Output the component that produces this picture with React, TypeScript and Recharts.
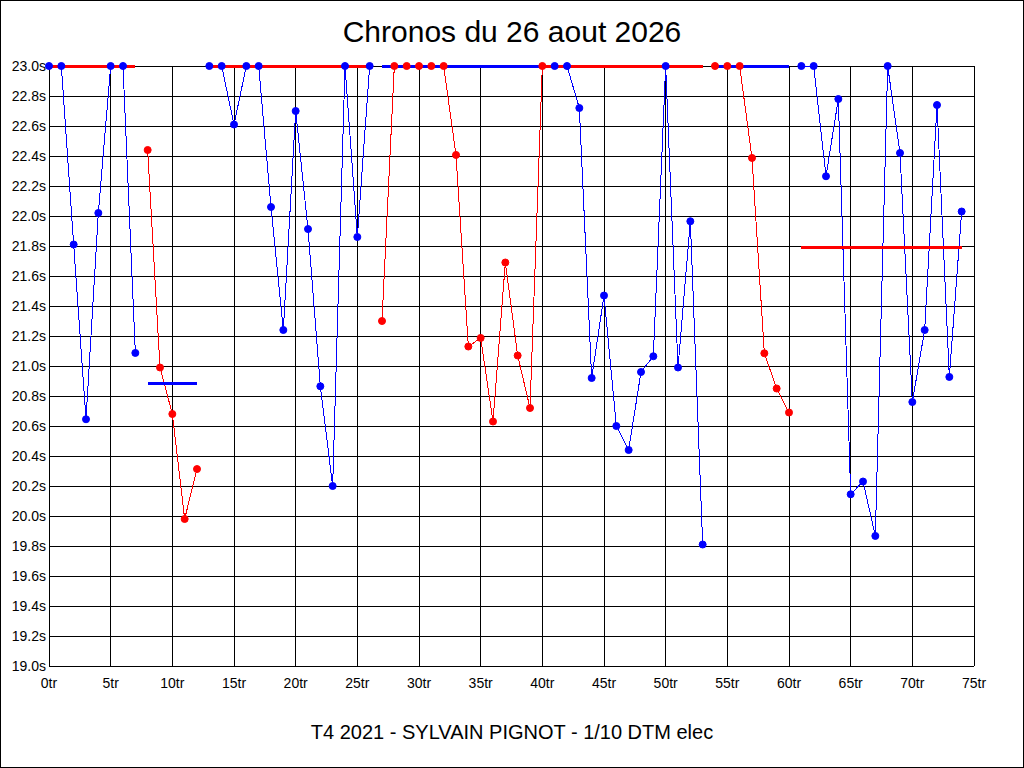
import React from 'react';
import { ComposedChart, Line, XAxis, YAxis, CartesianGrid } from 'recharts';

// Lap times (seconds); values above 23.0 are shown clipped at 23.0
const lapTimes = [
  23.0, 23.0, 21.81, 20.645, 22.02, 23.0, 23.0, 21.087,
  22.44, 20.99, 20.68, 19.98, 20.313,
  23.0, 23.0, 22.61, 23.0, 23.0, 22.06, 21.24, 22.7, 21.913, 20.865, 20.2, 23.0, 21.86, 23.0,
  21.3, 23.0, 23.0, 23.0, 23.0, 23.0, 22.407, 21.13, 21.187, 20.63, 21.69, 21.07, 20.72, 23.0,
  23.0, 23.0, 22.72, 20.92, 21.47, 20.6, 20.44, 20.96, 21.065, 23.0, 20.99, 21.965, 19.81,
  23.0, 23.0, 23.0, 22.387, 21.085, 20.85, 20.69,
  23.0, 23.0, 22.265, 22.78, 20.145, 20.23, 19.867, 23.0, 22.42, 20.76, 21.24, 22.74, 20.927, 22.03,
];

// Runs (groups of laps)
const groupStart = [0, 8, 13, 27, 41, 54, 61];
const groupEnd = [7, 12, 26, 40, 53, 60, 74];
const groupColor = ['#0000ff', '#ff0000', '#0000ff', '#ff0000', '#0000ff', '#ff0000', '#0000ff'];

// Average line per run (clipped at 23.0)
const avgValue = [23.0, 20.885, 23.0, 23.0, 23.0, 23.0, 21.787];
const avgStart = [0, 8, 13, 27, 40, 54, 61];
const avgEnd = [7, 12, 26, 40, 53, 60, 74];
const avgColor = ['#ff0000', '#0000ff', '#ff0000', '#0000ff', '#ff0000', '#0000ff', '#ff0000'];

const xTicks = [0, 5, 10, 15, 20, 25, 30, 35, 40, 45, 50, 55, 60, 65, 70, 75];
const yTicks = [19.0, 19.2, 19.4, 19.6, 19.8, 20.0, 20.2, 20.4, 20.6, 20.8, 21.0, 21.2, 21.4, 21.6, 21.8, 22.0, 22.2, 22.4, 22.6, 22.8, 23.0];

const title = 'Chronos du 26 aout 2026';
const footer = 'T4 2021 - SYLVAIN PIGNOT - 1/10 DTM elec';

const data = lapTimes.map((t, lap) => {
  const row: Record<string, number> = { lap };
  groupStart.forEach((s, i) => {
    if (lap >= s && lap <= groupEnd[i]) row['g' + i] = t;
  });
  avgStart.forEach((s, i) => {
    if (lap >= s && lap <= avgEnd[i]) row['a' + i] = avgValue[i];
  });
  return row;
});

const FONT = '"Liberation Sans", Arial, sans-serif';
const tickStyle = { fill: '#000', fontSize: 14, fontFamily: FONT };

export default function App() {
  return (
    <div style={{ position: 'absolute', left: 0, top: 0, width: 1024, height: 768, background: '#fff', fontFamily: FONT }}>
      <style>{`
        .recharts-cartesian-grid line, .recharts-cartesian-axis-line { shape-rendering: crispEdges; }
        .recharts-line-curve { shape-rendering: crispEdges; }
      `}</style>
      <ComposedChart
        width={1024}
        height={768}
        data={data}
        margin={{ top: 66, right: 0, bottom: 72, left: 0 }}
      >
        <CartesianGrid yAxisId="left" stroke="#000" strokeWidth={1} strokeOpacity={1} />
        <XAxis
          dataKey="lap"
          type="number"
          domain={[0, 75]}
          ticks={xTicks}
          tickFormatter={(v: number) => `${v}tr`}
          tick={tickStyle}
          tickLine={false}
          tickSize={0}
          tickMargin={12}
          height={30}
          axisLine={{ stroke: '#000' }}
          interval={0}
        />
        <YAxis
          yAxisId="left"
          type="number"
          domain={[19, 23]}
          ticks={yTicks}
          tickFormatter={(v: number) => `${v.toFixed(1)}s`}
          tick={tickStyle}
          tickLine={false}
          tickSize={0}
          tickMargin={3}
          width={49}
          axisLine={{ stroke: '#000' }}
          interval={0}
        />
        <YAxis
          yAxisId="right"
          orientation="right"
          type="number"
          domain={[19, 23]}
          ticks={yTicks}
          tickFormatter={(v: number) => `${v.toFixed(1)}s`}
          tick={tickStyle}
          tickLine={false}
          tickSize={0}
          tickMargin={5}
          width={50}
          axisLine={{ stroke: '#000' }}
          interval={0}
        />
        {groupStart.map((_, i) => (
          <Line
            key={'g' + i}
            yAxisId="left"
            type="linear"
            dataKey={'g' + i}
            stroke={groupColor[i]}
            strokeWidth={1}
            dot={{ r: 3.5, fill: groupColor[i], stroke: groupColor[i], strokeWidth: 1 }}
            activeDot={false}
            isAnimationActive={false}
            connectNulls={false}
          />
        ))}
        {avgStart.map((_, i) => (
          <Line
            key={'a' + i}
            yAxisId="left"
            type="linear"
            dataKey={'a' + i}
            stroke={avgColor[i]}
            strokeWidth={3}
            dot={false}
            activeDot={false}
            isAnimationActive={false}
            connectNulls={false}
          />
        ))}
      </ComposedChart>
      <div style={{ position: 'absolute', left: 0, top: 17, width: 1024, textAlign: 'center', fontSize: 30, lineHeight: '30px', color: '#000' }}>
        {title}
      </div>
      <div style={{ position: 'absolute', left: 0, top: 722, width: 1024, textAlign: 'center', fontSize: 20, lineHeight: '20px', color: '#000' }}>
        {footer}
      </div>
      <div style={{ position: 'absolute', left: 0, top: 0, width: 1024, height: 768, boxSizing: 'border-box', border: '1px solid #000', pointerEvents: 'none' }} />
    </div>
  );
}
